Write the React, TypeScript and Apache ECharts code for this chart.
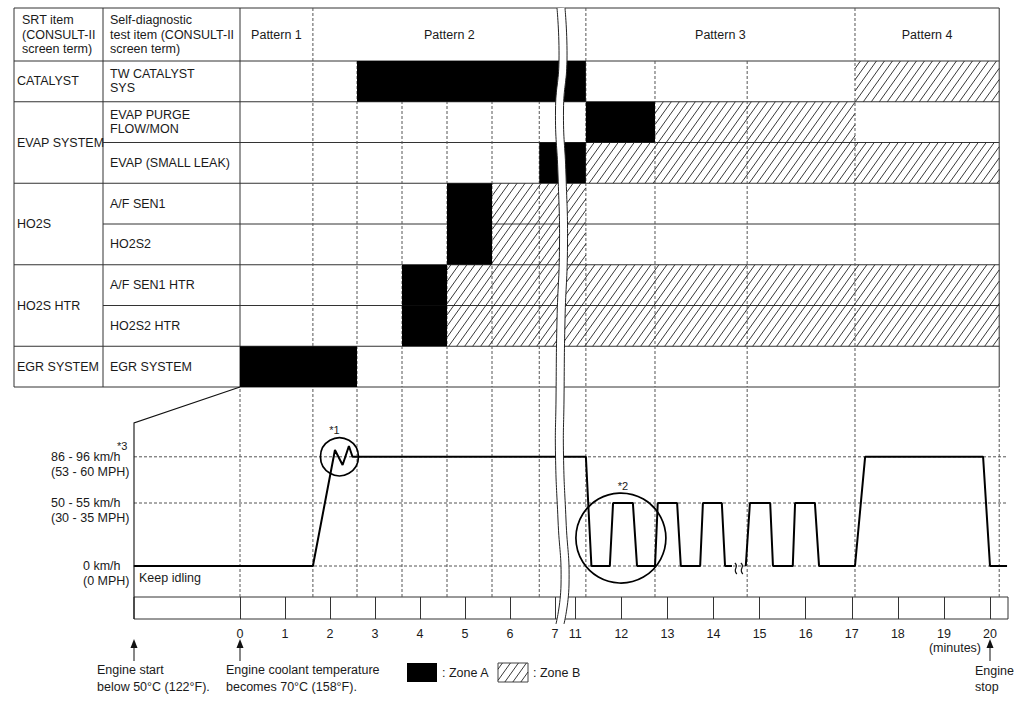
import React, { useEffect, useRef } from 'react';
import * as echarts from 'echarts';

// ---------------- data ----------------
const srtItems = ['CATALYST', 'EVAP SYSTEM', 'HO2S', 'HO2S HTR', 'EGR SYSTEM'];
const srtRowSpans = [1, 2, 2, 2, 1];
const testItems = ['TW CATALYST\nSYS', 'EVAP PURGE\nFLOW/MON', 'EVAP (SMALL LEAK)', 'A/F SEN1', 'HO2S2', 'A/F SEN1 HTR', 'HO2S2 HTR', 'EGR SYSTEM'];
// zone intervals in minutes, one per test item row
const zoneAStart = [2.6, 11.23, 6.65, 4.6, 4.6, 3.6, 3.6, 0];
const zoneAEnd = [11.23, 12.73, 11.23, 5.6, 5.6, 4.6, 4.6, 2.6];
const zoneBStart: (number | null)[] = [17.07, 12.73, 11.23, 5.6, 5.6, 4.6, 4.6, null];
const zoneBEnd: (number | null)[] = [20.2, 17.07, 20.2, 11.23, 11.23, 20.2, 20.2, null];
const patternNames = ['Pattern 1', 'Pattern 2', 'Pattern 3', 'Pattern 4'];
const patternBounds = [0, 1.62, 11.23, 17.07, 20.2];
const stepBounds = [2.6, 3.6, 4.6, 5.6, 6.65, 12.73, 14.73];
// vehicle speed trace (minutes, km/h); null = time skipped
const speedT = [-2.36, 1.62, 2.11, 2.28, 2.42, 2.5, 11.23, 11.35, 11.75, 11.82, 12.25, 12.34, 12.73, 12.79, 13.21, 13.29, 13.71, 13.77, 14.18, 14.25, 14.4, 14.55, 14.7, 14.79, 15.23, 15.29, 15.72, 15.77, 16.2, 16.29, 17.07, 17.29, 19.85, 20.0, 20.37];
const speedV: (number | null)[] = [0, 0, 96.7, 84.2, 100, 91, 91, 0, 0, 52.5, 52.5, 0, 0, 52.5, 52.5, 0, 0, 52.5, 52.5, 0, 0, null, 0, 52.5, 52.5, 0, 0, 52.5, 52.5, 0, 0, 91, 91, 0, 0];
const circleT = [2.21, 11.99];
const circleV = [91, 23.3];
const circleNames = ['*1', '*2'];
const gapMarkT = [14.55];
const minuteTicksLeft = [0, 1, 2, 3, 4, 5, 6, 7];
const minuteTicksRight = [11, 12, 13, 14, 15, 16, 17, 18, 19, 20];
const speedTicks = [0, 52.5, 91];
const speedKmh = ['0 km/h', '50 - 55 km/h', '86 - 96 km/h'];
const speedMph = ['(0 MPH)', '(30 - 35 MPH)', '(53 - 60 MPH)'];
const engineStopT = 20;

// ---------------- layout / style ----------------
const FONT = '"Liberation Sans", Arial, Helvetica, sans-serif';
const FS = 12.5;
const TXT = '#1a1a1a';
const LINE = '#333';
const DASH = '#555';
const TABLE_TOP = 8;
const HEADER_H = 53;
const ROW_H = 40.75;
const N_ROWS = testItems.length;
const TABLE_BOTTOM = TABLE_TOP + HEADER_H + ROW_H * N_ROWS;
const HEADER_U = HEADER_H / ROW_H;
const COL0 = 14;
const COL1 = 103;
const BREAK_X = 563;
const L_ORIGIN = 240;
const L_PX = 45;
const R_ORIGIN = 68.4;
const R_PX = 46.08;
const CHART_LEFT = 134;
const CHART_RIGHT = 1008;
const CHART_BOTTOM = 597;
const STRIP_BOTTOM = 619;
const V_PX = 1.2;
const V_ZERO_Y = 566;
const CIRCLE_SIZES = [38, 90];
const CIRCLE_LABEL_OFFSET = [[-5, 0], [2, 0]];

const tAtL = (x: number) => (x - L_ORIGIN) / L_PX;
const tAtR = (x: number) => (x - R_ORIGIN) / R_PX;
const T_SPLIT = (tAtL(BREAK_X) + tAtR(BREAK_X)) / 2;
const xOf = (t: number) => (t < T_SPLIT ? L_ORIGIN + L_PX * t : R_ORIGIN + R_PX * t);
const rowY = (i: number) => TABLE_TOP + HEADER_H + i * ROW_H;

function hatchSegments(x0: number, y0: number, x1: number, y1: number, k = 1.4, s = 8) {
  const step = k * s;
  const segs: number[][] = [];
  const cMin = k * x0 + y0;
  const cMax = k * x1 + y1;
  for (let n = Math.ceil(cMin / step); n * step <= cMax; n++) {
    const c = n * step;
    const xa = Math.max(x0, (c - y1) / k);
    const xb = Math.min(x1, (c - y0) / k);
    if (xb - xa > 0.3) segs.push([xa, c - k * xa, xb, c - k * xb]);
  }
  return segs;
}

const SEG_STYLES: any[] = [
  { stroke: LINE, lineWidth: 1 },
  { stroke: DASH, lineWidth: 1, lineDash: [3, 2] },
];

function segRender(params: any, api: any) {
  const cs = params.coordSys;
  const a = api.coord([api.value(0), api.value(1)]);
  const b = api.coord([api.value(2), api.value(3)]);
  const st = SEG_STYLES[api.value(4)];
  let x1 = a[0];
  let x2 = b[0];
  if (Math.abs(x1 - x2) < 0.01) {
    if (x1 < cs.x - 0.6 || x1 > cs.x + cs.width + 0.6) return null;
  } else {
    x1 = Math.max(x1, cs.x);
    x2 = Math.min(x2, cs.x + cs.width);
    if (x2 <= x1) return null;
  }
  return { type: 'line', shape: { x1, y1: a[1], x2, y2: b[1] }, style: { ...st } };
}

function cellRender(params: any, api: any) {
  const cs = params.coordSys;
  const row = api.value(2);
  const p0 = api.coord([api.value(0), row]);
  const p1 = api.coord([api.value(1), row + 1]);
  const x0 = Math.max(p0[0], cs.x);
  const x1 = Math.min(p1[0], cs.x + cs.width);
  const y0 = p0[1];
  const y1 = p1[1];
  if (x1 - x0 < 0.5) return null;
  if (api.value(3) === 0) {
    return { type: 'rect', shape: { x: x0, y: y0, width: x1 - x0, height: y1 - y0 }, style: { fill: '#000' } };
  }
  return {
    type: 'group',
    children: hatchSegments(x0, y0, x1, y1).map((s) => ({
      type: 'line',
      shape: { x1: s[0], y1: s[1], x2: s[2], y2: s[3] },
      style: { stroke: '#222', lineWidth: 0.9 },
    })),
  };
}

function gapRender(params: any, api: any) {
  const p = api.coord([api.value(0), api.value(1)]);
  const mk = (dx: number) => ({
    type: 'bezierCurve',
    shape: { x1: p[0] + dx - 1, y1: p[1] - 3, cpx1: p[0] + dx + 4, cpy1: p[1] + 1, cpx2: p[0] + dx - 4, cpy2: p[1] + 3, x2: p[0] + dx + 1, y2: p[1] + 8 },
    style: { stroke: '#111', fill: null, lineWidth: 1.2 },
  });
  return { type: 'group', children: [mk(-3), mk(3)] };
}

function buildOption(measure: (s: string) => number) {
  const tL1 = tAtL(BREAK_X);
  const tR0 = tAtR(BREAK_X);
  const tEnd = patternBounds[patternBounds.length - 1];
  const tChartL0 = tAtL(CHART_LEFT);
  const tChartR1 = tAtR(CHART_RIGHT);
  const yMin = -(CHART_BOTTOM - V_ZERO_Y) / V_PX;
  const yMax = (V_ZERO_Y - TABLE_BOTTOM) / V_PX;

  const baseGrid = { outerBoundsMode: 'none', containLabel: false };
  const grid = [
    { ...baseGrid, left: L_ORIGIN, top: TABLE_TOP, width: BREAK_X - L_ORIGIN, height: TABLE_BOTTOM - TABLE_TOP },
    { ...baseGrid, left: BREAK_X, top: TABLE_TOP, width: xOf(tEnd) - BREAK_X, height: TABLE_BOTTOM - TABLE_TOP },
    { ...baseGrid, left: CHART_LEFT, top: TABLE_BOTTOM, width: BREAK_X - CHART_LEFT, height: CHART_BOTTOM - TABLE_BOTTOM },
    { ...baseGrid, left: BREAK_X, top: TABLE_BOTTOM, width: CHART_RIGHT - BREAK_X, height: CHART_BOTTOM - TABLE_BOTTOM },
    { ...baseGrid, left: CHART_LEFT, top: CHART_BOTTOM, width: BREAK_X - CHART_LEFT, height: STRIP_BOTTOM - CHART_BOTTOM, show: true, borderColor: LINE, borderWidth: 1, backgroundColor: 'transparent' },
    { ...baseGrid, left: BREAK_X, top: CHART_BOTTOM, width: CHART_RIGHT - BREAK_X, height: STRIP_BOTTOM - CHART_BOTTOM, show: true, borderColor: LINE, borderWidth: 1, backgroundColor: 'transparent' },
  ];
  const hiddenX = (gi: number, min: number, max: number) => ({ type: 'value', gridIndex: gi, min, max, show: false });
  const stripX = (gi: number, min: number, max: number, ticks: number[]) => ({
    type: 'value', gridIndex: gi, min, max, position: 'bottom',
    axisLine: { show: false },
    splitLine: { show: false },
    axisTick: { show: true, inside: true, length: STRIP_BOTTOM - CHART_BOTTOM, customValues: ticks, lineStyle: { color: LINE, width: 1 } },
    axisLabel: { show: true, customValues: ticks, margin: 8, color: TXT, fontSize: FS, fontFamily: FONT },
  });
  const xAxis = [
    hiddenX(0, 0, tL1),
    hiddenX(1, tR0, tEnd),
    hiddenX(2, tChartL0, tL1),
    hiddenX(3, tR0, tChartR1),
    stripX(4, tChartL0, tL1, minuteTicksLeft),
    stripX(5, tR0, tChartR1, minuteTicksRight),
  ];

  const widths = speedKmh.map((s, i) => Math.ceil(Math.max(measure(s), measure(speedMph[i]))) + 1);
  const rich: any = { e: { lineHeight: 15, fontSize: FS, fontFamily: FONT } };
  widths.forEach((w, i) => {
    rich['w' + i] = { width: w, align: 'left', lineHeight: 15, fontSize: FS, fontFamily: FONT, color: TXT };
  });
  const yAxis = [
    { type: 'value', gridIndex: 0, min: -HEADER_U, max: N_ROWS, inverse: true, show: false },
    { type: 'value', gridIndex: 1, min: -HEADER_U, max: N_ROWS, inverse: true, show: false },
    {
      type: 'value', gridIndex: 2, min: yMin, max: yMax,
      axisLine: { show: false }, axisTick: { show: false }, splitLine: { show: false },
      axisLabel: {
        show: true, customValues: speedTicks, margin: 3, align: 'right', color: TXT, fontSize: FS, fontFamily: FONT, lineHeight: 15,
        formatter: (v: number) => {
          const i = speedTicks.findIndex((s) => Math.abs(s - v) < 0.01);
          if (i < 0) return '';
          return `{e| }\n{w${i}|${speedKmh[i]}}\n{w${i}|${speedMph[i]}}`;
        },
        rich,
      },
    },
    { type: 'value', gridIndex: 3, min: yMin, max: yMax, show: false },
    { type: 'value', gridIndex: 4, min: 0, max: 1, show: false },
    { type: 'value', gridIndex: 5, min: 0, max: 1, show: false },
  ];

  // structural line segments in data units
  const tableSegs: number[][] = [];
  for (let r = 0; r <= N_ROWS; r++) tableSegs.push([-100, r, 100, r, 0]);
  tableSegs.push([-100, -HEADER_U, 100, -HEADER_U, 0]);
  patternBounds.forEach((t, i) => tableSegs.push([t, -HEADER_U, t, N_ROWS, i === 0 || i === patternBounds.length - 1 ? 0 : 1]));
  stepBounds.forEach((t) => tableSegs.push([t, 0, t, N_ROWS, 1]));

  const chartSegs: number[][] = [];
  [...patternBounds, ...stepBounds].forEach((t) => chartSegs.push([t, yMin, t, yMax, 1]));
  speedTicks.forEach((v) => chartSegs.push([-100, v, 100, v, 1]));

  const cellData: number[][] = [];
  testItems.forEach((_, i) => {
    cellData.push([zoneAStart[i], zoneAEnd[i], i, 0]);
    if (zoneBStart[i] != null && zoneBEnd[i] != null) cellData.push([zoneBStart[i] as number, zoneBEnd[i] as number, i, 1]);
  });

  const speedData = speedT.map((t, i) => [t, speedV[i]]);

  const segSeries = (gi: number, data: number[][]) => ({
    type: 'custom', xAxisIndex: gi, yAxisIndex: gi, z: 1, silent: true,
    encode: { x: [0, 2], y: [1, 3] }, renderItem: segRender, data,
  });
  const cellSeries = (gi: number) => ({
    type: 'custom', xAxisIndex: gi, yAxisIndex: gi, z: 2, silent: true,
    encode: { x: [0, 1], y: 2 }, renderItem: cellRender, data: cellData,
  });
  const speedSeries = (gi: number) => ({
    type: 'line', xAxisIndex: gi, yAxisIndex: gi, z: 3, silent: true, symbol: 'none', showSymbol: false,
    connectNulls: false, clip: true, data: speedData, lineStyle: { color: '#000', width: 2, opacity: 1 },
  });
  const circleLabel = { show: true, position: 'top', distance: 1, formatter: '{b}', color: TXT, fontSize: 11, fontFamily: FONT, textBorderWidth: 0, opacity: 1 };
  const circleSeries = (gi: number, lo: number, hi: number) => ({
    type: 'scatter', xAxisIndex: gi, yAxisIndex: gi, z: 4, silent: true, symbol: 'circle',
    data: circleT
      .map((t, i) => ({ value: [t, circleV[i]], name: circleNames[i], symbolSize: CIRCLE_SIZES[i], label: { ...circleLabel, offset: CIRCLE_LABEL_OFFSET[i] } }))
      .filter((d) => d.value[0] >= lo && d.value[0] <= hi),
    itemStyle: { color: 'rgba(0,0,0,0)', borderColor: '#000', borderWidth: 1.7, opacity: 1 },
    label: circleLabel,
  });

  const series: any[] = [
    segSeries(0, tableSegs),
    segSeries(1, tableSegs),
    cellSeries(0),
    cellSeries(1),
    segSeries(2, chartSegs),
    segSeries(3, chartSegs),
    speedSeries(2),
    speedSeries(3),
    circleSeries(2, tChartL0, tL1),
    circleSeries(3, tR0, tChartR1),
    {
      type: 'custom', xAxisIndex: 3, yAxisIndex: 3, z: 4, silent: true,
      encode: { x: 0, y: 1 }, renderItem: gapRender, data: gapMarkT.map((t) => [t, 0]),
    },
  ];

  // ---------- graphic (labels, label columns, arrows, legend, axis break) ----------
  const g: any[] = [];
  const gLine = (x1: number, y1: number, x2: number, y2: number, stroke = LINE, w = 1, z = 40) =>
    ({ type: 'line', silent: true, z, shape: { x1, y1, x2, y2 }, style: { stroke, lineWidth: w } });
  const gText = (x: number, y: number, text: string, o: any = {}) => ({
    type: 'text', silent: true, z: 60, x, y,
    style: { text, fill: TXT, font: `${o.size || FS}px ${FONT}`, align: o.align || 'left', verticalAlign: 'middle', lineHeight: o.lh || 14.5 },
  });
  const gArrow = (x: number, tipY: number, tailY: number) => {
    g.push(gLine(x, tipY + 7, x, tailY, '#111', 1));
    g.push({ type: 'polygon', silent: true, z: 40, shape: { points: [[x, tipY], [x - 3.5, tipY + 9], [x + 3.5, tipY + 9]] }, style: { fill: '#111' } });
  };

  // label columns frame
  const x0 = xOf(0);
  g.push(gLine(COL0, TABLE_TOP, COL0, TABLE_BOTTOM));
  g.push(gLine(COL1, TABLE_TOP, COL1, TABLE_BOTTOM));
  g.push(gLine(COL0, TABLE_TOP, x0, TABLE_TOP));
  const groupStarts: number[] = [];
  let acc = 0;
  srtRowSpans.forEach((s) => { groupStarts.push(acc); acc += s; });
  for (let i = 0; i <= N_ROWS; i++) {
    const isGroup = i === N_ROWS || groupStarts.indexOf(i) >= 0;
    g.push(gLine(isGroup ? COL0 : COL1, rowY(i), x0, rowY(i)));
  }
  // header texts
  const hy = TABLE_TOP + HEADER_H / 2;
  g.push(gText(COL0 + 8, hy, 'SRT item\n(CONSULT-II\nscreen term)'));
  g.push(gText(COL1 + 7, hy, 'Self-diagnostic\ntest item (CONSULT-II\nscreen term)'));
  patternNames.forEach((n, i) => {
    g.push(gText((xOf(patternBounds[i]) + xOf(patternBounds[i + 1])) / 2, hy, n, { align: 'center' }));
  });
  srtItems.forEach((n, i) => {
    g.push(gText(COL0 + 3, rowY(groupStarts[i]) + (srtRowSpans[i] * ROW_H) / 2, n));
  });
  testItems.forEach((n, i) => {
    g.push(gText(COL1 + 7, rowY(i) + ROW_H / 2, n, { lh: 14 }));
  });

  // bracket from table to chart
  g.push({
    type: 'polyline', silent: true, z: 40,
    shape: { points: [[x0, TABLE_BOTTOM], [CHART_LEFT, TABLE_BOTTOM + 36], [CHART_LEFT, STRIP_BOTTOM]] },
    style: { stroke: '#111', lineWidth: 1.1, fill: null },
  });
  g.push(gText(117, 446, '*3', { size: 11 }));
  g.push(gText(CHART_LEFT + 5, 578, 'Keep idling'));

  // arrows and notes
  gArrow(CHART_LEFT, 639, 661);
  gArrow(x0, 639, 661);
  gArrow(xOf(engineStopT), 639, 661);
  g.push(gText(97, 678.5, 'Engine start\nbelow 50°C (122°F).', { lh: 17 }));
  g.push(gText(226, 678.5, 'Engine coolant temperature\nbecomes 70°C (158°F).', { lh: 17 }));
  g.push(gText(xOf(engineStopT) - 9, 648, '(minutes)', { align: 'right' }));
  g.push(gText(975, 679, 'Engine\nstop', { lh: 16 }));

  // legend
  g.push({ type: 'rect', silent: true, z: 40, shape: { x: 407, y: 663, width: 30, height: 19 }, style: { fill: '#000' } });
  g.push(gText(442, 672.5, ': Zone A'));
  g.push({ type: 'rect', silent: true, z: 40, shape: { x: 498, y: 663, width: 30, height: 19 }, style: { fill: '#fff', stroke: '#444', lineWidth: 1 } });
  hatchSegments(498, 663, 528, 682).forEach((s) => g.push(gLine(s[0], s[1], s[2], s[3], '#222', 0.9, 41)));
  g.push(gText(533, 672.5, ': Zone B'));

  // axis break band
  const breakCenter = [[561, TABLE_TOP], [563, 60], [559.5, 110], [562, 175], [563.5, 245], [561, 320], [560, 400], [559.5, 455], [562, 520], [565, 585], [560, 624]];
  g.push({ type: 'polyline', silent: true, z: 100, shape: { points: breakCenter, smooth: 0.5 }, style: { stroke: '#fff', lineWidth: 8, fill: null } });
  [-4, 4].forEach((dx) => {
    g.push({
      type: 'polyline', silent: true, z: 101,
      shape: { points: breakCenter.map((p) => [p[0] + dx, p[1]]), smooth: 0.5 },
      style: { stroke: '#222', lineWidth: 1, fill: null },
    });
  });

  return {
    animation: false,
    backgroundColor: '#fff',
    textStyle: { fontFamily: FONT, color: TXT },
    grid, xAxis, yAxis, series,
    graphic: { elements: g },
  };
}

export default function App() {
  const ref = useRef<HTMLDivElement>(null);
  useEffect(() => {
    const el = ref.current;
    if (!el) return;
    const ctx = document.createElement('canvas').getContext('2d');
    const measure = (s: string) => {
      if (!ctx) return s.length * 6.5;
      ctx.font = `${FS}px ${FONT}`;
      return ctx.measureText(s).width;
    };
    const chart = echarts.init(el, null, { renderer: 'svg' });
    chart.setOption(buildOption(measure) as any);
    return () => chart.dispose();
  }, []);
  return <div ref={ref} style={{ position: 'fixed', left: 0, top: 0, width: 1023, height: 712, background: '#fff' }} />;
}
